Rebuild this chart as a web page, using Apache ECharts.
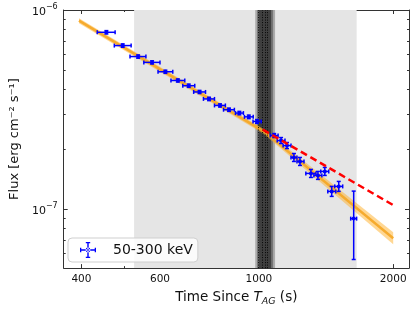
<!DOCTYPE html>
<html><head><meta charset="utf-8">
<script src="https://cdn.jsdelivr.net/npm/echarts@6/dist/echarts.min.js"></script>
<style>html,body{margin:0;padding:0;background:#fff}#c{width:415px;height:312px}</style>
</head><body><div id="c"></div>
<script>
// ---- data ----
const time   = [455,495,536,576,617,658,696,736,773,818,857,904,949,990,1082,1121,1156,1198,1236,1308,1356,1405,1456,1510,1631];
const timeLo = [434,474,514,552,594,635,675,714,751,795,833,886,928,970,1060,1099,1133,1180,1217,1274,1328,1376,1427,1479,1606];
const timeHi = [476,517,558,600,641,682,718,759,795,841,881,923,971,1012,1104,1144,1180,1217,1262,1342,1384,1434,1487,1541,1656];
const flux   = [7.73e-7,6.63e-7,5.84e-7,5.46e-7,4.90e-7,4.43e-7,4.17e-7,3.88e-7,3.58e-7,3.32e-7,3.16e-7,3.04e-7,2.91e-7,2.76e-7,2.344e-7,2.213e-7,2.089e-7,1.820e-7,1.738e-7,1.514e-7,1.479e-7,1.549e-7,1.230e-7,1.303e-7,8.98e-8];
const fluxLo = [7.58e-7,6.50e-7,5.73e-7,5.36e-7,4.81e-7,4.35e-7,4.09e-7,3.81e-7,3.51e-7,3.26e-7,3.10e-7,2.98e-7,2.85e-7,2.70e-7,2.291e-7,2.138e-7,2.018e-7,1.738e-7,1.660e-7,1.445e-7,1.413e-7,1.479e-7,1.161e-7,1.230e-7,5.60e-8];
const fluxHi = [7.88e-7,6.76e-7,5.95e-7,5.56e-7,4.99e-7,4.51e-7,4.25e-7,3.95e-7,3.65e-7,3.38e-7,3.22e-7,3.10e-7,2.97e-7,2.82e-7,2.399e-7,2.291e-7,2.163e-7,1.905e-7,1.820e-7,1.585e-7,1.549e-7,1.622e-7,1.303e-7,1.380e-7,1.234e-7];

const fitT   = [395, 1025, 2000];
const fitMid = [8.84e-7, 2.46e-7, 7.16e-8];
const fitLo  = [8.59e-7, 2.39e-7, 6.68e-8];
const fitHi  = [9.10e-7, 2.53e-7, 7.67e-8];

const plT    = [1020, 2000];
const plFlux = [2.51e-7, 1.05e-7];

const spanStart = 525, spanEnd = 1656;
const shadeStart = [981, 990, 999];
const shadeEnd   = [1087, 1076, 1065];
const dotLines   = [996, 1018, 1031, 1046];

const xMajor = [400, 600, 1000, 2000];
const xMinor = [500, 700, 800, 900];
const yMajor = [1e-7, 1e-6];
const yMinor = [6e-8,7e-8,8e-8,9e-8,2e-7,3e-7,4e-7,5e-7,6e-7,7e-7,8e-7,9e-7];
const xMin = 365, xMax = 2170, yMin = 5.07e-8, yMax = 1e-6;

const seriesName = '50-300 keV';
// --------------------------------------

const FONT = 'DejaVu Sans';
const AX = '#333';
const blue = '#0000ff';

function xAx(pos, ticks, len, showLine, showLabel) {
  return {
    type: 'log', logBase: 10, min: xMin, max: xMax, position: pos, gridIndex: 0,
    axisLine: {show: showLine, lineStyle: {color: AX, width: 1}},
    axisTick: {show: true, inside: true, length: len, customValues: ticks, lineStyle: {color: AX, width: 1}},
    axisLabel: {show: showLabel, customValues: ticks, fontFamily: FONT, fontSize: 10.5, color: '#111', margin: 6,
      formatter: v => String(Math.round(v))},
    splitLine: {show: false}, minorTick: {show: false}
  };
}
function yAx(pos, ticks, len, showLine, showLabel) {
  return {
    type: 'log', logBase: 10, min: yMin, max: yMax, position: pos, gridIndex: 0,
    axisLine: {show: showLine, lineStyle: {color: AX, width: 1}},
    axisTick: {show: true, inside: true, length: len, customValues: ticks, lineStyle: {color: AX, width: 1}},
    axisLabel: {show: showLabel, customValues: ticks, fontFamily: FONT, color: '#111', margin: 6,
      formatter: v => '{b|10}{s|−' + (-Math.round(Math.log10(v))) + '}',
      rich: {b: {fontFamily: FONT, fontSize: 11, color: '#111', verticalAlign: 'bottom', padding: [4,0,0,0]},
             s: {fontFamily: FONT, fontSize: 8, color: '#111', verticalAlign: 'top'}}},
    splitLine: {show: false}, minorTick: {show: false}
  };
}

const xAxes = [xAx('bottom', xMajor, 4, true, true), xAx('bottom', xMinor, 2, false, false),
               xAx('top', xMajor, 4, true, false), xAx('top', xMinor, 2, false, false)];
Object.assign(xAxes[0], {
  name: '{n|Time Since }{it|T}{sub|AG}{n| (s)}', nameLocation: 'middle', nameGap: 19,
  nameTextStyle: {fontFamily: FONT, fontSize: 13.5, color: '#111', rich: {
    n: {fontFamily: FONT, fontSize: 13.5, color: '#111', verticalAlign: 'top'},
    it: {fontFamily: FONT, fontSize: 13.5, fontStyle: 'italic', color: '#111', verticalAlign: 'top'},
    sub: {fontFamily: FONT, fontSize: 9.5, fontStyle: 'italic', color: '#111', verticalAlign: 'bottom', padding: [7,0,0,0]}}}
});
const yAxes = [yAx('left', yMajor, 4, true, true), yAx('left', yMinor, 2, false, false),
               yAx('right', yMajor, 4, true, false), yAx('right', yMinor, 2, false, false)];
Object.assign(yAxes[0], {
  name: 'Flux [erg cm⁻² s⁻¹]', nameLocation: 'middle', nameGap: 39,
  nameTextStyle: {fontFamily: FONT, fontSize: 13, color: '#111'}
});

const errData = time.map((t, i) => [t, flux[i], timeLo[i], timeHi[i], fluxLo[i], fluxHi[i]]);
const bandData = [0, 1].map(i => [fitT[i], fitLo[i], fitHi[i], fitT[i+1], fitLo[i+1], fitHi[i+1]]);

const legendIcon = 'path://M0,7.3h16v1.4h-16z M7.3,0h1.4v16h-1.4z M0,5.8h1.3v4.4h-1.3z M14.7,5.8h1.3v4.4h-1.3z M5.8,0h4.4v1.3h-4.4z M5.8,14.7h4.4v1.3h-4.4z M8,5.6a2.4,2.4 0 1,0 0.01,0z';

const option = {
  animation: false,
  backgroundColor: '#fff',
  grid: {left: 61, right: 6, top: 10, bottom: 43, containLabel: false},
  xAxis: xAxes,
  yAxis: yAxes,
  legend: {
    data: [{name: seriesName, icon: legendIcon}],
    left: 68, top: 238, orient: 'horizontal',
    itemWidth: 16, itemHeight: 16,
    backgroundColor: 'rgba(255,255,255,0.85)', borderColor: '#cfcfcf', borderWidth: 1, borderRadius: 4,
    padding: [4, 5, 4, 12],
    textStyle: {fontFamily: FONT, fontSize: 14, color: '#111', padding: [0, 0, 0, 12]}
  },
  series: [
    {
      type: 'line', data: [], silent: true, z: 0,
      markArea: {silent: true, itemStyle: {color: '#e5e5e5'}, data: [[{xAxis: spanStart}, {xAxis: spanEnd}]]}
    },
    {
      type: 'custom', z: 3, silent: true,
      data: bandData,
      encode: {x: [0, 3], y: [1, 2, 4, 5]},
      renderItem: function (params, api) {
        const p1 = api.coord([api.value(0), api.value(1)]);
        const p2 = api.coord([api.value(0), api.value(2)]);
        const p3 = api.coord([api.value(3), api.value(5)]);
        const p4 = api.coord([api.value(3), api.value(4)]);
        return {type: 'polygon', shape: {points: [p1, p2, p3, p4]},
          style: {fill: 'rgba(255,176,40,0.5)', stroke: null}};
      }
    },
    {
      type: 'line', z: 4, silent: true, symbol: 'none',
      data: fitT.map((t, i) => [t, fitMid[i]]),
      lineStyle: {color: '#f5a623', width: 2.5, opacity: 0.9}
    },
    {
      name: seriesName, type: 'custom', z: 5,
      itemStyle: {color: blue},
      data: errData,
      encode: {x: [0, 2, 3], y: [1, 4, 5]},
      renderItem: function (params, api) {
        const x = api.value(0), y = api.value(1);
        const c = api.coord([x, y]);
        const l = api.coord([api.value(2), y])[0];
        const r = api.coord([api.value(3), y])[0];
        const b = api.coord([x, api.value(4)])[1];
        const t = api.coord([x, api.value(5)])[1];
        const cap = 2;
        const st = {stroke: blue, lineWidth: 1.5};
        const ln = (x1, y1, x2, y2) => ({type: 'line', shape: {x1, y1, x2, y2}, style: st});
        return {type: 'group', children: [
          ln(l, c[1], r, c[1]),
          ln(l, c[1] - cap, l, c[1] + cap),
          ln(r, c[1] - cap, r, c[1] + cap),
          ln(c[0], t, c[0], b),
          ln(c[0] - cap, t, c[0] + cap, t),
          ln(c[0] - cap, b, c[0] + cap, b),
          {type: 'circle', shape: {cx: c[0], cy: c[1], r: 2}, style: {fill: blue}}
        ]};
      }
    },
    {
      type: 'line', data: [], silent: true, z: 6,
      markArea: {silent: true, data: [
        [{xAxis: shadeStart[0], itemStyle: {color: 'rgba(0,0,0,0.25)'}}, {xAxis: shadeEnd[0]}],
        [{xAxis: shadeStart[1], itemStyle: {color: 'rgba(0,0,0,0.32)'}}, {xAxis: shadeEnd[1]}],
        [{xAxis: shadeStart[2], itemStyle: {color: 'rgba(0,0,0,0.45)'}}, {xAxis: shadeEnd[2]}]
      ]},
      markLine: {silent: true, symbol: 'none', label: {show: false},
        lineStyle: {color: '#000', width: 1, type: [1, 1.5], opacity: 0.9},
        data: dotLines.map(v => ({xAxis: v}))}
    },
    {
      type: 'line', z: 7, silent: true, symbol: 'none',
      data: plT.map((t, i) => [t, plFlux[i]]),
      lineStyle: {color: '#ff0000', width: 2.5, type: [7, 4]}
    }
  ]
};

const chart = echarts.init(document.getElementById('c'), null, {renderer: 'canvas'});
chart.setOption(option);
</script>
</body></html>
